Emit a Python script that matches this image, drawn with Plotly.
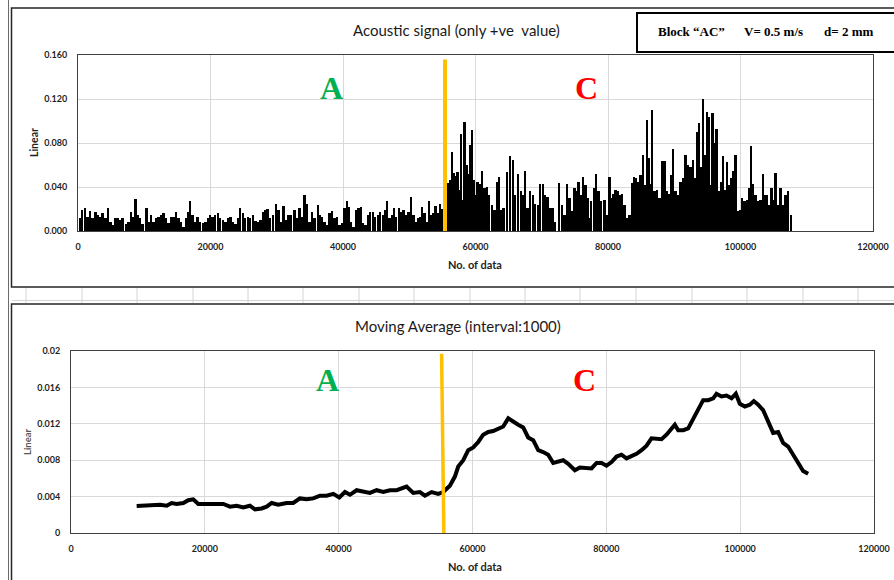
import plotly.graph_objects as go

W, H = 894, 580

# Peak amplitude of the acoustic signal (positive half), sampled by data index
spike_x = [
    300, 600, 1100, 1460, 1810, 2210, 2620, 2970, 3320, 3720, 4130, 4530, 4880, 5230, 5640, 5990,
    6390, 6740, 7250, 7650, 8000, 8350, 8650, 9000, 9360, 9760, 10360, 10660, 11020, 11420, 11770,
    12170, 12520, 12880, 13280, 13680, 14030, 14390, 14790, 15190, 15540, 15900, 16300, 16650, 16950,
    17300, 17700, 18060, 18420, 18830, 19230, 19580, 19930, 20330, 20690, 21090, 21440, 21840, 22250,
    22600, 23000, 23350, 23760, 24110, 24460, 24860, 25210, 25620, 25970, 26370, 26770, 27130, 27530,
    27880, 28230, 28630, 28990, 29390, 29890, 30240, 30640, 31000, 31400, 31800, 32150, 32660, 33010,
    33410, 33820, 34170, 34570, 34920, 35320, 35680, 36190, 36540, 36850, 37200, 37550, 37950, 38300,
    38710, 39060, 39460, 39860, 40220, 40570, 40870, 41220, 41570, 41980, 42330, 42680, 42980, 43380,
    43740, 44090, 44490, 44840, 45250, 45600, 46000, 46350, 46650, 47000, 47360, 47660, 48010, 48410,
    48770, 49120, 49520, 49870, 50280, 50630, 50930, 51280, 51630, 51930, 52290, 52640, 52940, 53290,
    53650, 53950, 54300, 54650, 54950,
    55770, 56170, 56420, 56670, 57020, 57280, 57530, 57780, 58080, 58330, 58630, 58940, 59190, 59490,
    59690, 59990, 60290, 60700, 61000, 61350, 61700, 62050, 62460, 62860, 63210, 63560, 63870, 64220,
    64720, 65220, 65620, 65980, 66430, 66830, 67240, 67490, 67840, 68240, 68640, 68990, 69400, 69750,
    70150, 70500, 70860, 71260, 71610, 72010, 72600, 73090, 73440, 73840, 74190, 74540, 74950, 75300,
    75550, 75850, 76200, 76610, 76960, 77210, 77460, 77860, 78220, 78570, 78970, 79470, 79830, 80230,
    80580, 80830, 81130, 81490, 81740, 82140, 82490, 82840, 83250, 83600, 83900, 84250, 84600, 84910,
    85260, 85510, 85860, 86160, 86410, 86670, 87020, 87370, 87770, 88180, 88530, 88930, 89280, 89560,
    89840, 90190, 90600, 90950, 91350, 91700, 92050, 92460, 92810, 93210, 93460, 93710, 94020, 94370,
    94620, 94920, 95220, 95470, 95780, 96080, 96380, 96730, 97030, 97340, 97640, 97990, 98340, 98590,
    98900, 99250, 99600, 99900, 100250, 100610, 100960, 101260, 101610, 101910, 102270, 102620, 103020,
    103370, 103670, 104020, 104380, 104680, 105030, 105280, 105640, 106040, 106440, 106790, 107140, 107600,
]
spike_h = [
    0.012, 0.019, 0.021, 0.013, 0.018, 0.0115, 0.017, 0.015, 0.013, 0.016, 0.0115, 0.021, 0.0085, 0.0055, 0.0115, 0.012,
    0.010, 0.012, 0.006, 0.0085, 0.0175, 0.013, 0.029, 0.015, 0.0115, 0.006, 0.0205, 0.0085, 0.015, 0.0085, 0.0115,
    0.013, 0.015, 0.016, 0.0115, 0.007, 0.013, 0.013, 0.0175, 0.0115, 0.0085, 0.004, 0.0115, 0.0175, 0.027,
    0.0145, 0.0085, 0.013, 0.008, 0.007, 0.0085, 0.0115, 0.015, 0.013, 0.0145, 0.016, 0.0115, 0.010, 0.0085,
    0.0115, 0.013, 0.0085, 0.006, 0.0115, 0.021, 0.016, 0.0115, 0.013, 0.012, 0.0145, 0.009, 0.0085, 0.010,
    0.0175, 0.019, 0.020, 0.0115, 0.0145, 0.025, 0.019, 0.0085, 0.023, 0.010, 0.0145, 0.0145, 0.019, 0.0115,
    0.021, 0.013, 0.033, 0.025, 0.0085, 0.0175, 0.0115, 0.024, 0.015, 0.013, 0.0085, 0.0055, 0.016, 0.018,
    0.0115, 0.013, 0.0055, 0.007, 0.0205, 0.027, 0.022, 0.0085, 0.004, 0.019, 0.021, 0.022, 0.007, 0.0055,
    0.0145, 0.017, 0.0175, 0.013, 0.0145, 0.0175, 0.015, 0.019, 0.027, 0.0115, 0.015, 0.0205, 0.013, 0.0205,
    0.0175, 0.019, 0.015, 0.0175, 0.031, 0.015, 0.0085, 0.0115, 0.013, 0.022, 0.016, 0.0085, 0.027, 0.0145,
    0.016, 0.023, 0.016, 0.025, 0.020,
    0.044, 0.046, 0.072, 0.053, 0.050, 0.054, 0.037, 0.088, 0.028, 0.099, 0.060, 0.052, 0.078, 0.092,
    0.046, 0.033, 0.045, 0.043, 0.055, 0.039, 0.040, 0.033, 0.024, 0.019, 0.045, 0.049, 0.019, 0.021,
    0.054, 0.068, 0.065, 0.033, 0.052, 0.036, 0.033, 0.055, 0.021, 0.036, 0.033, 0.025, 0.024, 0.043,
    0.043, 0.033, 0.031, 0.021, 0.021, 0.008, 0.044, 0.024, 0.015, 0.043, 0.030, 0.018, 0.039, 0.036,
    0.045, 0.033, 0.049, 0.042, 0.030, 0.012, 0.027, 0.039, 0.052, 0.036, 0.027, 0.028, 0.015, 0.049,
    0.030, 0.034, 0.037, 0.036, 0.033, 0.034, 0.024, 0.012, 0.015, 0.044, 0.049, 0.048, 0.045, 0.051,
    0.069, 0.042, 0.101, 0.066, 0.043, 0.110, 0.036, 0.037, 0.030, 0.064, 0.064, 0.036, 0.034, 0.051,
    0.075, 0.036, 0.033, 0.045, 0.048, 0.069, 0.060, 0.058, 0.065, 0.048, 0.090, 0.098, 0.058, 0.120,
    0.069, 0.108, 0.104, 0.042, 0.107, 0.080, 0.093, 0.036, 0.045, 0.068, 0.037, 0.063, 0.042, 0.048,
    0.055, 0.069, 0.018, 0.019, 0.030, 0.027, 0.028, 0.039, 0.077, 0.043, 0.033, 0.027, 0.028,
    0.052, 0.033, 0.033, 0.024, 0.039, 0.028, 0.053, 0.024, 0.039, 0.024, 0.033, 0.036, 0.015,
]

# Moving average of the signal (interval 1000)
ma_x = [
    9810, 11800, 13300, 14300, 15040, 15790, 16780, 17530, 18270, 19020, 20270, 21770, 22760, 23750,
    24750, 25740, 26740, 27490, 28490, 29240, 29980, 30970, 32220, 33210, 34210, 35210, 36200, 37200,
    38200, 39190, 40090, 40940, 41680, 42680, 43670, 44670, 45670, 46660, 47660, 48660, 50150, 51140,
    52140, 52890, 53890, 54880, 55620, 56620, 57370, 57870, 58620, 59360, 60110, 60860, 61600, 62350,
    63100, 63840, 64590, 65340, 66080, 66830, 67580, 68320, 69070, 69820, 70560, 71310, 72060, 72800,
    73550, 74300, 75300, 76050, 77040, 77790, 78540, 79290, 80030, 80780, 81530, 82270, 83020, 83770,
    84510, 85260, 86010, 86750, 87500, 88250, 88990, 89740, 90240, 90740, 91490, 92230, 92980, 93730,
    94470, 95220, 95970, 96460, 97210, 97960, 98710, 99350, 99950, 100700, 101440, 102040, 102690,
    103430, 103930, 104430, 104930, 105670, 106420, 107170, 107910, 108660, 109410, 110160,
]
ma_y = [
    0.00297, 0.0030, 0.0031, 0.0030, 0.0033, 0.0032, 0.0033, 0.0036, 0.0037, 0.0032, 0.0032, 0.0033, 0.0032, 0.0029,
    0.0030, 0.0028, 0.0030, 0.0026, 0.0027, 0.0029, 0.0033, 0.0031, 0.0033, 0.0033, 0.0038, 0.0037, 0.0038, 0.0041,
    0.0041, 0.0043, 0.0039, 0.0045, 0.0042, 0.0047, 0.0045, 0.0044, 0.0047, 0.0045, 0.0047, 0.0047, 0.0051, 0.0044,
    0.0045, 0.0041, 0.0045, 0.0043, 0.0045, 0.0052, 0.0062, 0.0073, 0.0080, 0.0091, 0.0094, 0.0100, 0.0108, 0.0111,
    0.0112, 0.0115, 0.0117, 0.0126, 0.0122, 0.0119, 0.0116, 0.0105, 0.0102, 0.0091, 0.0089, 0.0086, 0.0077, 0.0078,
    0.0080, 0.0076, 0.0069, 0.0072, 0.0071, 0.0071, 0.0077, 0.0077, 0.0074, 0.0078, 0.0084, 0.0086, 0.0082, 0.0084,
    0.0087, 0.0091, 0.0096, 0.0104, 0.0104, 0.0103, 0.0108, 0.0114, 0.0119, 0.0113, 0.0113, 0.0115, 0.0126, 0.0137,
    0.0146, 0.0146, 0.0148, 0.0153, 0.0150, 0.0151, 0.0148, 0.0153, 0.0142, 0.0139, 0.0141, 0.0145, 0.0141,
    0.0135, 0.0126, 0.0117, 0.0110, 0.0111, 0.0099, 0.0095, 0.0086, 0.0077, 0.0068, 0.0065,
]

# Onset of stage C (vertical marker)
onset_top_x = [55400, 55400]
onset_top_y = [0, 0.156]
onset_bot_x = [55720, 55380]
onset_bot_y = [0, 0.0197]

x_ticks = [0, 20000, 40000, 60000, 80000, 100000, 120000]
x_text = ["0", "20000", "40000", "60000", "80000", "100000", "120000"]
top_y_ticks = [0, 0.04, 0.08, 0.12, 0.16]
top_y_text = ["0.000", "0.040", "0.080", "0.120", "0.160"]
bot_y_ticks = [0, 0.004, 0.008, 0.012, 0.016, 0.02]
bot_y_text = ["0", "0.004", "0.008", "0.012", "0.016", "0.02"]

top_title = "Acoustic signal (only +ve  value)"
bot_title = "Moving Average (interval:1000)"
x_title = "No. of data"
y_title = "Linear"
info_parts = ["Block \u201cAC\u201d", "V= 0.5 m/s", "d= 2 mm"]


def fx(p):
    return p / W


def fy(p):
    return 1 - p / H


ORANGE = "#FFC000"
GRID = "#D9D9D9"
AXLINE = "#404040"
FONT = "Lato"

fig = go.Figure()

fig.add_trace(go.Bar(x=spike_x, y=spike_h, width=360, marker=dict(color="black", line=dict(width=0)),
                     xaxis="x", yaxis="y", showlegend=False, hoverinfo="skip"))
fig.add_trace(go.Scatter(x=onset_top_x, y=onset_top_y, mode="lines", line=dict(color=ORANGE, width=4),
                         xaxis="x", yaxis="y", showlegend=False))
fig.add_trace(go.Scatter(x=ma_x, y=ma_y, mode="lines", line=dict(color="black", width=4),
                         xaxis="x2", yaxis="y2", showlegend=False))
fig.add_trace(go.Scatter(x=onset_bot_x, y=onset_bot_y, mode="lines", line=dict(color=ORANGE, width=3.5),
                         xaxis="x2", yaxis="y2", showlegend=False))

tickfont = dict(family=FONT, size=9, color="#1f1f1f", weight="bold")

common_x = dict(range=[0, 120000], tickmode="array", tickvals=x_ticks, ticktext=x_text,
                showgrid=True, gridcolor=GRID, gridwidth=1, zeroline=False,
                showline=True, mirror=True, linecolor=AXLINE, linewidth=1, automargin=False,
                ticks="", tickfont=tickfont, ticklabelstandoff=7, fixedrange=True)
common_y = dict(tickmode="array", showgrid=True, gridcolor=GRID, gridwidth=1, zeroline=False,
                showline=True, mirror=True, linecolor=AXLINE, linewidth=1, automargin=False,
                ticks="", tickfont=tickfont, ticklabelstandoff=8, fixedrange=True)

fig.update_layout(
    width=W, height=H, margin=dict(l=0, r=0, t=0, b=0, autoexpand=False),
    paper_bgcolor="white", plot_bgcolor="white",
    xaxis=dict(domain=[fx(78), fx(873)], anchor="y", **common_x),
    yaxis=dict(domain=[fy(231), fy(55)], anchor="x", range=[0, 0.16],
               tickvals=top_y_ticks, ticktext=top_y_text, **common_y),
    xaxis2=dict(domain=[fx(71), fx(874)], anchor="y2", **common_x),
    yaxis2=dict(domain=[fy(533), fy(351)], anchor="x2", range=[0, 0.02],
                tickvals=bot_y_ticks, ticktext=bot_y_text, **common_y),
    bargap=0,
)

shapes = []
# spreadsheet column/row borders
shapes.append(dict(type="line", xref="paper", yref="paper", x0=fx(8.5), x1=fx(8.5), y0=0, y1=1,
                   line=dict(color="#6b6b6b", width=1)))
for cx in [26, 82, 137, 193, 248, 303, 359, 414, 470, 525, 580, 636, 692, 747, 803, 858]:
    shapes.append(dict(type="line", xref="paper", yref="paper", x0=fx(cx), x1=fx(cx),
                       y0=fy(288), y1=fy(303), line=dict(color="#D4D4D4", width=1)))
shapes.append(dict(type="line", xref="paper", yref="paper", x0=fx(12), x1=1.01, y0=fy(300.5), y1=fy(300.5),
                   line=dict(color="#D4D4D4", width=1)))
# chart frames
shapes.append(dict(type="rect", xref="paper", yref="paper", x0=fx(11.5), x1=fx(905), y0=fy(287), y1=fy(8),
                   line=dict(color="#262626", width=1.5)))
shapes.append(dict(type="rect", xref="paper", yref="paper", x0=fx(11.5), x1=fx(905), y0=fy(590), y1=fy(304),
                   line=dict(color="#262626", width=1.5)))
# info box
shapes.append(dict(type="rect", xref="paper", yref="paper", x0=fx(637), x1=fx(905), y0=fy(52), y1=fy(13),
                   line=dict(color="black", width=2), fillcolor="white"))

ann = []
ann.append(dict(text=top_title, x=fx(456), y=fy(30), xref="paper", yref="paper", showarrow=False,
                font=dict(family=FONT, size=15, color="#1a1a1a"), xanchor="center", yanchor="middle"))
ann.append(dict(text=bot_title, x=fx(458), y=fy(326), xref="paper", yref="paper", showarrow=False,
                font=dict(family=FONT, size=15, color="#1a1a1a"), xanchor="center", yanchor="middle"))
for px_, part in zip([691, 773, 848], info_parts):
    ann.append(dict(text=part, x=fx(px_), y=fy(31), xref="paper", yref="paper", showarrow=False,
                    font=dict(family="Liberation Serif", size=13, color="black", weight="bold"),
                    xanchor="center", yanchor="middle"))
for py_ in [264, 566]:
    ann.append(dict(text=x_title, x=fx(475), y=fy(py_), xref="paper", yref="paper", showarrow=False,
                    font=dict(family=FONT, size=11, color="#1f1f1f", weight="bold"),
                    xanchor="center", yanchor="middle"))
ann.append(dict(text=y_title, x=fx(34), y=fy(143), xref="paper", yref="paper", showarrow=False, textangle=-90,
                font=dict(family=FONT, size=10.5, color="#1f1f1f", weight="bold"),
                xanchor="center", yanchor="middle"))
ann.append(dict(text=y_title, x=fx(27), y=fy(442), xref="paper", yref="paper", showarrow=False, textangle=-90,
                font=dict(family=FONT, size=9.5, color="#595959", weight="bold"),
                xanchor="center", yanchor="middle"))
# stage labels
for xr, yr, yv in [("x", "y", 0.130), ("x2", "y2", 0.0168)]:
    ann.append(dict(text="A", x=38300, y=yv, xref=xr, yref=yr, showarrow=False,
                    font=dict(family="Liberation Serif", size=32, color="#00B050", weight="bold"),
                    xanchor="center", yanchor="middle"))
    ann.append(dict(text="C", x=76800, y=yv, xref=xr, yref=yr, showarrow=False,
                    font=dict(family="Liberation Serif", size=32, color="#FF0000", weight="bold"),
                    xanchor="center", yanchor="middle"))

fig.update_layout(shapes=shapes, annotations=ann)

fig.write_html("out.html")
